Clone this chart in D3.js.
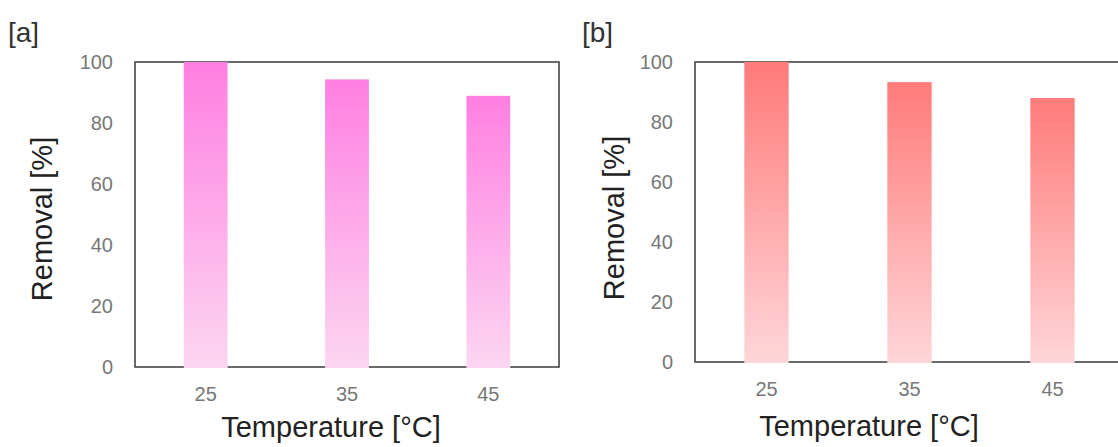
<!DOCTYPE html>
<html>
<head>
<meta charset="utf-8">
<script src="https://cdn.jsdelivr.net/npm/d3@7"></script>
<style>
  html, body { margin: 0; padding: 0; background: #fff; }
  svg { display: block; font-family: "Liberation Sans", Arial, sans-serif; }
</style>
</head>
<body>
<div id="chart"></div>
<script>
// Data
const temperatures = ["25", "35", "45"];
const removalA = [100, 94.3, 88.9];
const removalB = [100, 93.3, 88.0];
const yTicks = [0, 20, 40, 60, 80, 100];

const W = 1118, H = 447;

const svg = d3.select("#chart").append("svg")
    .attr("width", W)
    .attr("height", H);

const defs = svg.append("defs");

// soft edges like the scanned original
defs.append("filter").attr("id", "soft")
    .append("feGaussianBlur").attr("stdDeviation", 0.6);

function addGradient(id, top, bottom) {
    const g = defs.append("linearGradient")
        .attr("id", id)
        .attr("x1", "0%").attr("y1", "0%")
        .attr("x2", "0%").attr("y2", "100%");
    g.append("stop").attr("offset", "0%").attr("stop-color", top);
    g.append("stop").attr("offset", "100%").attr("stop-color", bottom);
}
addGradient("grad-a", "#ff7fe2", "#fcd6f1");
addGradient("grad-b", "#ff7a7a", "#ffd6d8");

function drawPanel(p) {
    const x = d3.scaleBand()
        .domain(temperatures)
        .range([p.left, p.right])
        .paddingInner(0.69)
        .paddingOuter(0.345);

    const y = d3.scaleLinear()
        .domain([0, 100])
        .range([p.bottom, p.top]);

    const g = svg.append("g");

    // frame
    g.append("rect")
        .attr("x", p.left)
        .attr("y", p.top)
        .attr("width", p.right - p.left)
        .attr("height", p.bottom - p.top)
        .attr("fill", "none")
        .attr("stroke", "#3a3a3a")
        .attr("stroke-width", 1.5);

    // bars
    g.selectAll(".bar")
        .data(p.values)
        .enter()
        .append("rect")
        .attr("class", "bar")
        .attr("x", (d, i) => x(temperatures[i]))
        .attr("width", x.bandwidth())
        .attr("y", d => y(d))
        .attr("height", d => y(0) - y(d) + 1)
        .attr("fill", `url(#${p.gradient})`)
        .attr("filter", "url(#soft)");

    // y axis labels
    g.append("g")
        .attr("transform", `translate(${p.left},0)`)
        .call(d3.axisLeft(y).tickValues(yTicks).tickSize(0).tickPadding(22))
        .call(a => a.select(".domain").remove())
        .call(a => a.selectAll("text")
            .attr("fill", "#777")
            .style("font-size", "20px")
            .style("font-family", "'Liberation Sans', Arial, sans-serif"));

    // x axis labels
    g.append("g")
        .attr("transform", `translate(0,${p.bottom})`)
        .call(d3.axisBottom(x).tickSize(0).tickPadding(p.xTickPad))
        .call(a => a.select(".domain").remove())
        .call(a => a.selectAll("text")
            .attr("fill", "#777")
            .style("font-size", "20px")
            .style("font-family", "'Liberation Sans', Arial, sans-serif"));

    // axis titles
    g.append("text")
        .attr("x", p.xTitleX)
        .attr("y", p.xTitleY)
        .attr("text-anchor", "middle")
        .attr("fill", "#222")
        .style("font-size", "29px")
        .text("Temperature [°C]");

    g.append("text")
        .attr("transform", `translate(${p.yTitleX},${p.yTitleY}) rotate(-90)`)
        .attr("text-anchor", "middle")
        .attr("fill", "#222")
        .style("font-size", "29px")
        .text("Removal [%]");

    // panel tag
    g.append("text")
        .attr("x", p.tagX)
        .attr("y", 42)
        .attr("fill", "#333")
        .style("font-size", "28px")
        .text(p.tag);
}

drawPanel({
    tag: "[a]", tagX: 8,
    values: removalA, gradient: "grad-a",
    left: 135, right: 559, top: 62, bottom: 367,
    xTickPad: 20,
    xTitleX: 331, xTitleY: 437,
    yTitleX: 52, yTitleY: 219
});

drawPanel({
    tag: "[b]", tagX: 582,
    values: removalB, gradient: "grad-b",
    left: 695, right: 1124, top: 62, bottom: 362,
    xTickPad: 20,
    xTitleX: 869, xTitleY: 436,
    yTitleX: 624, yTitleY: 218
});
</script>
</body>
</html>
